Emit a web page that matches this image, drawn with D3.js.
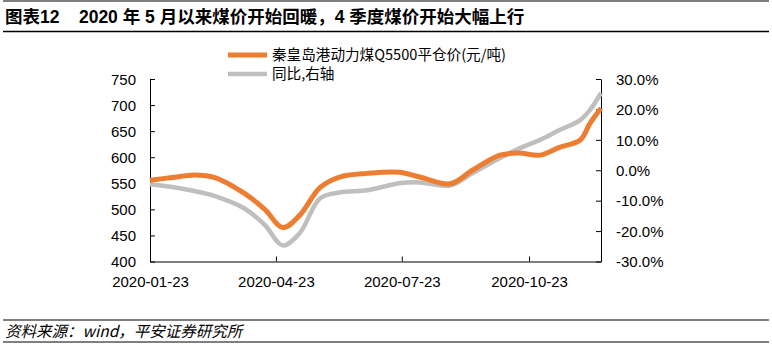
<!DOCTYPE html>
<html><head><meta charset="utf-8">
<script src="https://cdn.jsdelivr.net/npm/d3@7"></script>
<style>
html,body{margin:0;padding:0;background:#fff;}
svg{display:block;}
</style></head>
<body><svg id="c" width="772" height="347"></svg>
<script>
const titleText = "图表12\u00a0\u00a0\u00a0\u00a02020 年 5 月以来煤价开始回暖，4 季度煤价开始大幅上行";
const sourceText = "资料来源：wind，平安证券研究所";
const seriesNames = ["秦皇岛港动力煤Q5500平仓价(元/吨)", "同比,右轴"];
const dates = ["2020-01-23","2020-02-08","2020-02-24","2020-03-10","2020-03-31","2020-04-15","2020-04-28","2020-05-10","2020-05-25","2020-06-08","2020-06-28","2020-07-21","2020-08-05","2020-08-27","2020-09-12","2020-10-02","2020-10-16","2020-10-31","2020-11-14","2020-11-29","2020-12-06","2020-12-14"];
const price = [556,561,566,561,531,500,465,488,542,562,569,571,562,549,575,604,608,604,619,633,665,694];
const yoy = [-4.6,-5.5,-6.8,-8.5,-12.5,-18,-24.7,-20.8,-9.2,-7.3,-6.6,-4.3,-4.0,-5.0,-1.0,4.0,7.2,10.0,13.2,16.5,19.8,25.4];
const xTickLabels = ["2020-01-23","2020-04-23","2020-07-23","2020-10-23"];
const leftTicks = [400,450,500,550,600,650,700,750];
const rightTicks = [-30,-20,-10,0,10,20,30];

const parse = d3.timeParse("%Y-%m-%d");
const svg = d3.select("#c");
const L=150, R=601, T=79, B=261.5;
const latin = "'Liberation Sans', Arial, 'Noto Sans CJK SC', sans-serif";

// header
svg.append("line").attr("x1",3).attr("x2",769).attr("y1",1).attr("y2",1).attr("stroke","#000").attr("stroke-width",1.2);
svg.append("text").attr("x",5).attr("y",23).attr("font-family","'Liberation Sans Narrow','Liberation Sans','Noto Sans CJK SC',sans-serif")
  .attr("font-weight","bold").attr("font-size",17.5).attr("fill","#000").text(titleText);
svg.append("line").attr("x1",3).attr("x2",769).attr("y1",31.5).attr("y2",31.5).attr("stroke","#000").attr("stroke-width",1.5);

// footer
svg.append("line").attr("x1",3).attr("x2",769).attr("y1",320).attr("y2",320).attr("stroke","#000").attr("stroke-width",1);
svg.append("text").attr("x",5).attr("y",337).attr("font-family","'Noto Sans CJK SC',sans-serif").attr("font-style","italic")
  .attr("font-size",15.5).attr("fill","#000").text(sourceText);
svg.append("line").attr("x1",3).attr("x2",769).attr("y1",342).attr("y2",342).attr("stroke","#000").attr("stroke-width",1);

const x = d3.scaleTime().domain([parse(dates[0]), parse(dates[dates.length-1])]).range([L,R]);
const yL = d3.scaleLinear().domain([400,750]).range([B,T]);
const yR = d3.scaleLinear().domain([-30,30]).range([B,T]);

const axL = svg.append("g").attr("transform",`translate(${L},0)`)
  .call(d3.axisLeft(yL).tickValues(leftTicks).tickSizeInner(-5).tickSizeOuter(0).tickPadding(14));
const axR = svg.append("g").attr("transform",`translate(${R},0)`)
  .call(d3.axisRight(yR).tickValues(rightTicks).tickSizeInner(-5).tickSizeOuter(0).tickPadding(15).tickFormat(d=>d.toFixed(1)+"%"));
const axB = svg.append("g").attr("transform",`translate(0,${B})`)
  .call(d3.axisBottom(x).tickValues(xTickLabels.map(parse)).tickSizeInner(-5).tickSizeOuter(0).tickPadding(12).tickFormat(d3.timeFormat("%Y-%m-%d")));
[axL,axR,axB].forEach(g=>{
  g.selectAll("path").attr("stroke","#000").attr("stroke-width",1);
  g.selectAll("line").attr("stroke","#000").attr("stroke-width",1);
  g.selectAll("text").attr("font-family",latin).attr("font-size",15).attr("fill","#000");
});
axL.selectAll("text").attr("dy","0.35em");
axR.selectAll("text").attr("dy","0.35em");
axB.selectAll("text").attr("dy","0.35em").attr("y",20.5);

const curve = d3.curveCatmullRom.alpha(0.5);
const gray = d3.line().x((d,i)=>x(parse(dates[i]))).y(d=>yR(d)).curve(curve);
const orange = d3.line().x((d,i)=>x(parse(dates[i]))).y(d=>yL(d)).curve(curve);
svg.append("path").attr("d",gray(yoy)).attr("fill","none").attr("stroke","#BFBFBF").attr("stroke-width",4.5).attr("stroke-linejoin","round");
svg.append("path").attr("d",orange(price)).attr("fill","none").attr("stroke","#ED7D31").attr("stroke-width",5).attr("stroke-linejoin","round");

// legend
const leg = [{c:"#ED7D31",y:55,w:5},{c:"#BFBFBF",y:74,w:4.5}];
leg.forEach((l,i)=>{
  svg.append("line").attr("x1",228).attr("x2",267).attr("y1",l.y).attr("y2",l.y).attr("stroke",l.c).attr("stroke-width",l.w);
  svg.append("text").attr("x",272).attr("y",l.y).attr("dy","0.35em").attr("font-family","'Noto Sans CJK SC','Liberation Sans',sans-serif")
    .attr("font-size",14.6).attr("fill","#000").text(seriesNames[i]);
});
</script></body></html>
